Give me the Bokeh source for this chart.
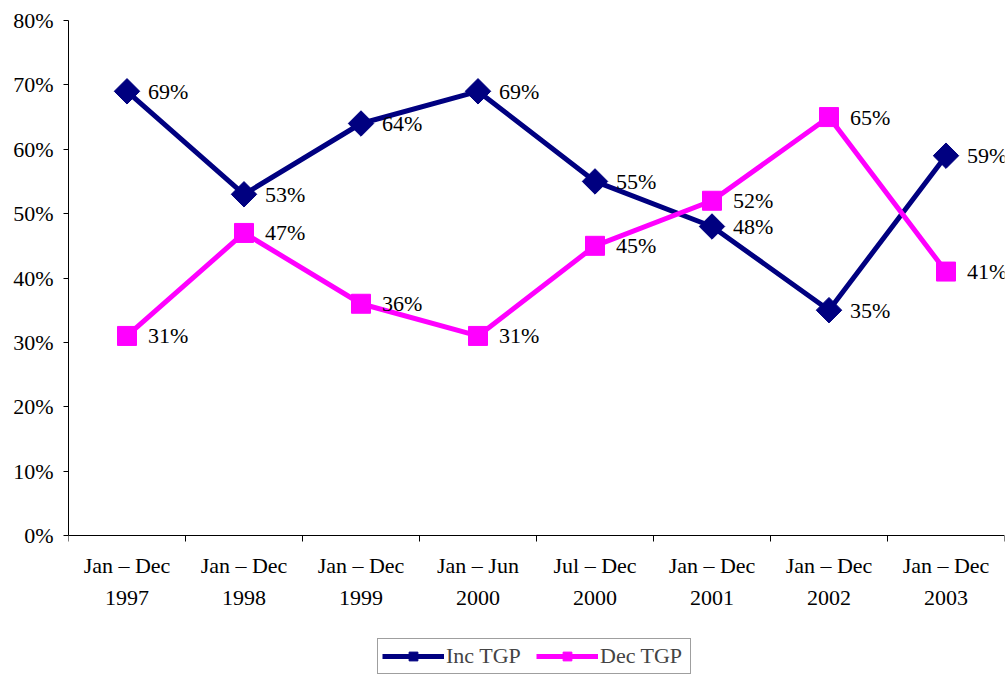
import numpy as np
from bokeh.plotting import figure
from bokeh.models import (FixedTicker, NumeralTickFormatter, Legend, LegendItem,
                          ColumnDataSource)
from bokeh.core.properties import value
from bokeh.embed import file_html
from bokeh.resources import INLINE

categories = ["Jan – Dec\n1997", "Jan – Dec\n1998", "Jan – Dec\n1999", "Jan – Jun\n2000",
              "Jul – Dec\n2000", "Jan – Dec\n2001", "Jan – Dec\n2002", "Jan – Dec\n2003"]
inc_tgp = [0.69, 0.53, 0.64, 0.69, 0.55, 0.48, 0.35, 0.59]
dec_tgp = [0.31, 0.47, 0.36, 0.31, 0.45, 0.52, 0.65, 0.41]
y_ticks = [0.0, 0.1, 0.2, 0.3, 0.4, 0.5, 0.6, 0.7, 0.8]

FONT = "Liberation Serif"
NAVY = "#000080"
MAGENTA = "#FF00FF"

# layout: frame spans from the top border to the bottom of the page; the value axis
# only covers 0..0.8 and the category axis is pinned at y = 0
W, H = 1007, 677
TOP, LEFT, RIGHT = 20, 68, 3
AXIS_Y = 535                       # pixel row of the 0% line
px_per_unit = (AXIS_Y - TOP) / 0.8
y_min = -(H - AXIS_Y) / px_per_unit

xs = [i + 0.5 for i in range(len(categories))]
src = ColumnDataSource(dict(
    x=xs, inc=inc_tgp, dec=dec_tgp,
    inc_lbl=[f"{round(v*100)}%" for v in inc_tgp],
    dec_lbl=[f"{round(v*100)}%" for v in dec_tgp],
))

p = figure(width=W, height=H, x_range=(0, len(categories)), y_range=(y_min, 0.8),
           output_backend="svg", toolbar_location=None,
           min_border_left=LEFT, min_border_right=RIGHT, min_border_top=TOP,
           min_border_bottom=0)
p.outline_line_color = None
p.xgrid.visible = False
p.ygrid.visible = False
p.background_fill_color = "white"
p.border_fill_color = "white"

# x axis
xa = p.xaxis[0]
xa.fixed_location = 0
xa.ticker = FixedTicker(ticks=xs, minor_ticks=list(range(len(categories) + 1)))
xa.major_label_overrides = {x: c for x, c in zip(xs, categories)}
xa.major_tick_line_color = None
xa.major_tick_out = 0
xa.major_tick_in = 0
xa.minor_tick_out = 6
xa.minor_tick_in = 0
xa.minor_tick_line_color = "black"
xa.axis_line_color = "black"
xa.major_label_text_font = FONT
xa.major_label_text_font_size = "22px"
xa.major_label_text_color = "black"
xa.major_label_text_line_height = 1.3
xa.major_label_standoff = 11

# y axis
ya = p.yaxis[0]
ya.bounds = (0, 0.8)
ya.ticker = FixedTicker(ticks=y_ticks, minor_ticks=[])
ya.formatter = NumeralTickFormatter(format="0%")
ya.major_tick_out = 5
ya.major_tick_in = 0
ya.minor_tick_out = 0
ya.minor_tick_in = 0
ya.axis_line_color = "black"
ya.major_tick_line_color = "black"
ya.major_label_text_font = FONT
ya.major_label_text_font_size = "22px"
ya.major_label_text_color = "black"
ya.major_label_standoff = 10

l1 = p.line("x", "inc", source=src, line_color=NAVY, line_width=5)
s1 = p.scatter("x", "inc", source=src, marker="square", size=18, angle=np.pi / 4,
               fill_color=NAVY, line_color=NAVY)
l2 = p.line("x", "dec", source=src, line_color=MAGENTA, line_width=5)
s2 = p.scatter("x", "dec", source=src, marker="square", size=19,
               fill_color=MAGENTA, line_color=MAGENTA)

p.text("x", "inc", text="inc_lbl", source=src, x_offset=21, text_baseline="middle",
       text_font=value(FONT), text_font_size="22px", text_color="black")
p.text("x", "dec", text="dec_lbl", source=src, x_offset=21, text_baseline="middle",
       text_font=value(FONT), text_font_size="22px", text_color="black")

legend = Legend(items=[LegendItem(label="Inc TGP", renderers=[l1, s1]),
                       LegendItem(label="Dec TGP", renderers=[l2, s2])],
                orientation="horizontal", location=(309, 3),
                label_text_font=FONT, label_text_font_size="22px",
                glyph_width=62, glyph_height=22, label_standoff=2, spacing=4,
                label_width=86,
                padding=4, margin=0, border_line_color="#404040", border_line_width=1,
                background_fill_color="white", background_fill_alpha=1.0)
p.add_layout(legend, "center")

open("out.html", "w").write(file_html(p, INLINE))
